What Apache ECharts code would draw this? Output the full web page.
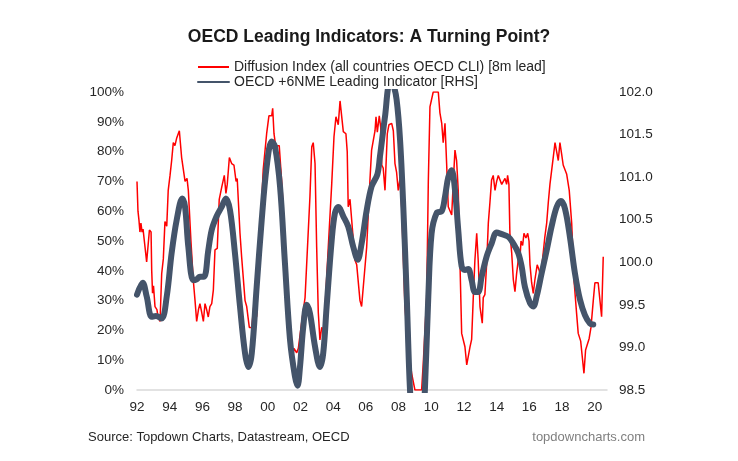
<!DOCTYPE html>
<html>
<head>
<meta charset="utf-8">
<script src="https://cdn.jsdelivr.net/npm/echarts@6/dist/echarts.min.js"></script>
<style>
html,body{margin:0;padding:0;background:#fff;}
#chart{width:738px;height:461px;}
</style>
</head>
<body>
<div id="chart"></div>
<script>
// Diffusion Index (% of countries), years as decimals
var diffYears = [1992.00,1992.06,1992.12,1992.18,1992.24,1992.31,1992.37,1992.49,1992.59,1992.67,1992.76,1992.86,1992.90,1992.95,1993.01,1993.10,1993.22,1993.28,1993.41,1993.51,1993.61,1993.71,1993.82,1993.91,1994.02,1994.12,1994.22,1994.32,1994.43,1994.51,1994.59,1994.73,1994.83,1994.94,1995.06,1995.14,1995.30,1995.44,1995.55,1995.65,1995.76,1995.85,1995.96,1996.06,1996.16,1996.26,1996.36,1996.46,1996.57,1996.67,1996.77,1996.91,1997.03,1997.18,1997.34,1997.44,1997.52,1997.65,1997.79,1997.93,1998.06,1998.13,1998.30,1998.40,1998.61,1998.71,1998.87,1999.02,1999.16,1999.32,1999.42,1999.57,1999.72,1999.93,2000.07,2000.24,2000.30,2000.38,2000.48,2000.70,2000.85,2001.05,2001.24,2001.36,2001.48,2001.60,2001.77,2001.87,2002.07,2002.28,2002.38,2002.58,2002.69,2002.78,2002.89,2002.99,2003.09,2003.19,2003.30,2003.39,2003.44,2003.50,2003.70,2003.91,2004.05,2004.17,2004.31,2004.42,2004.52,2004.62,2004.78,2004.86,2004.92,2005.03,2005.13,2005.33,2005.44,2005.64,2005.74,2005.84,2006.05,2006.25,2006.35,2006.56,2006.62,2006.70,2006.82,2006.91,2006.97,2007.06,2007.17,2007.31,2007.41,2007.58,2007.68,2007.78,2007.88,2007.98,2008.09,2008.19,2008.39,2008.59,2008.80,2009.00,2009.41,2009.51,2009.72,2009.82,2009.92,2010.12,2010.43,2010.53,2010.64,2010.73,2010.84,2010.94,2011.04,2011.14,2011.25,2011.35,2011.45,2011.55,2011.65,2011.86,2012.06,2012.17,2012.26,2012.37,2012.47,2012.57,2012.67,2012.78,2012.87,2012.98,2013.12,2013.18,2013.28,2013.39,2013.49,2013.59,2013.69,2013.79,2013.90,2014.00,2014.10,2014.20,2014.31,2014.40,2014.51,2014.61,2014.67,2014.75,2014.81,2014.92,2015.02,2015.12,2015.22,2015.32,2015.43,2015.49,2015.59,2015.67,2015.79,2015.90,2015.98,2016.04,2016.14,2016.24,2016.34,2016.48,2016.61,2016.69,2016.81,2016.95,2017.06,2017.16,2017.26,2017.36,2017.46,2017.57,2017.67,2017.77,2017.87,2017.98,2018.07,2018.18,2018.28,2018.44,2018.59,2018.73,2018.89,2018.99,2019.14,2019.24,2019.34,2019.44,2019.54,2019.66,2019.77,2019.91,2020.01,2020.21,2020.32,2020.42,2020.52];
var diffValues = [70,60,57,53,56,53,54,48,43,48,53.7,53,40,32.5,35,28,27,24.6,23,39,44,56.5,55,67,72,77,83,82,84.6,84,87,78,78,70,71,67,50,37,30,23,27,29,26,23,29,27,24.5,28,29,33.5,47,47.5,64,68,72,66,69,78,76,75.5,70,71,52.6,44.7,30,28,21,21,29,24.6,39,56,74,86,92,92,94.5,86,82,82,70,50,30,12,9,14,12.5,14,22.5,31,31,65,81.6,83,76,48,26,16.8,21,20,21.5,27,48,69,85,91.7,89,97,96.5,86.7,86,80,61.5,64,63.5,43.6,42,30,28,28,48,70.5,80.5,87,91.7,86.5,92,88,75.5,74.5,67,86,89,89.5,87,76,73,67,71,61.5,28,14.5,5.6,0,0,9,31,70,95,100,100,93,89.5,83,89.5,76,61.5,61.5,58.7,70,80.5,77,67,19,14.5,8.4,8.4,14.5,17,31,43.6,52.6,43.6,28,22.4,31,32,42.5,56,63,70.5,72,67,70,72,72,69,69,71,69,72,69,52.6,46,37,33,39,43.6,44.7,50,48.5,52.6,51,52.6,50,42,36,32.4,37,42,40,38,44,51.5,56,63,69,69.5,78,83,80,77,83,79,75.5,75,72.5,67,56,37,25.7,19,16.4,11,5.6,13.4,14,17.3,21,30,36,36,30,24.6,44.7];

// OECD +6NME Leading Indicator (RHS)
var cliYears = [1992.00,1992.35,1992.59,1992.90,1993.16,1993.51,1993.82,1994.12,1994.43,1994.77,1994.94,1995.14,1995.44,1995.65,1995.85,1996.10,1996.36,1996.57,1996.87,1997.18,1997.44,1997.69,1997.99,1998.30,1998.61,1998.81,1999.02,1999.32,1999.63,1999.93,2000.24,2000.44,2000.75,2001.05,2001.36,2001.66,2001.82,2001.97,2002.17,2002.38,2002.58,2002.89,2003.19,2003.39,2003.60,2003.91,2004.11,2004.31,2004.62,2004.92,2005.23,2005.50,2005.74,2006.05,2006.35,2006.70,2006.86,2007.17,2007.47,2007.68,2007.88,2008.09,2008.29,2008.50,2008.70,2008.94,2009.19,2009.43,2009.61,2009.82,2010.02,2010.33,2010.64,2010.84,2011.04,2011.25,2011.45,2011.65,2011.86,2012.06,2012.26,2012.47,2012.67,2012.87,2013.08,2013.39,2013.69,2014.00,2014.31,2014.71,2015.02,2015.32,2015.53,2015.73,2016.04,2016.24,2016.45,2016.75,2017.06,2017.36,2017.67,2017.93,2018.18,2018.48,2018.79,2019.10,2019.40,2019.71,2019.91];
var cliValues = [99.62,99.76,99.60,99.36,99.37,99.34,99.60,100.11,100.50,100.75,100.65,100.18,99.79,99.80,99.83,99.83,100.14,100.38,100.54,100.65,100.75,100.61,100.11,99.48,98.93,98.77,98.93,99.71,100.50,101.12,101.42,101.36,100.89,99.99,99.09,98.66,98.55,98.77,99.24,99.50,99.40,99.01,98.77,98.93,99.48,100.26,100.58,100.65,100.54,100.42,100.18,100.03,100.22,100.61,100.89,101.03,101.24,101.71,102.10,102.08,101.91,101.44,100.65,99.60,98.50,97.90,97.70,97.90,98.50,99.60,100.34,100.58,100.60,100.77,101.00,101.08,100.85,100.38,99.95,99.91,99.92,99.79,99.65,99.65,99.83,100.07,100.22,100.35,100.33,100.30,100.22,100.11,99.95,99.71,99.52,99.48,99.60,99.87,100.14,100.42,100.65,100.72,100.63,100.30,99.87,99.56,99.38,99.28,99.27];

var seriesNames = ['Diffusion Index (all countries OECD CLI) [8m lead]', 'OECD +6NME Leading Indicator [RHS]'];
var titleText = 'OECD Leading Indicators: A Turning Point?';
var sourceText = 'Source: Topdown Charts, Datastream, OECD';
var brandText = 'topdowncharts.com';

function zip(xs, ys) { return xs.map(function (x, i) { return [x, ys[i]]; }); }

var chart = echarts.init(document.getElementById('chart'), null, {renderer: 'canvas'});
var font = 'Liberation Sans, Arial, sans-serif';
chart.setOption({
  animation: false,
  backgroundColor: '#fff',
  textStyle: {fontFamily: font},
  title: {
    text: titleText,
    left: 'center',
    top: 23,
    textStyle: {fontSize: 17.5, fontWeight: 'bold', color: '#1a1a1a', fontFamily: font}
  },
  legend: {
    orient: 'vertical',
    left: 197,
    top: 60,
    padding: 0,
    itemWidth: 31,
    itemHeight: 14,
    itemGap: 1,
    itemStyle: {opacity: 0},
    textStyle: {fontSize: 14, color: '#262626', fontFamily: font},
    data: seriesNames
  },
  grid: {left: 137, right: 131, top: 92, bottom: 71, containLabel: false},
  xAxis: {
    type: 'value',
    min: 1992,
    max: 2020.75,
    interval: 2,
    axisLine: {show: true, lineStyle: {color: '#d9d9d9', width: 1.5}},
    axisTick: {show: false},
    splitLine: {show: false},
    axisLabel: {
      margin: 10,
      fontSize: 13.5,
      color: '#262626',
      showMaxLabel: false,
      formatter: function (v) {
        if (Math.abs(v - Math.round(v)) > 1e-6 || Math.round(v) % 2 !== 0) return '';
        var y = Math.round(v) % 100;
        return (y < 10 ? '0' : '') + y;
      }
    }
  },
  yAxis: [
    {
      type: 'value', min: 0, max: 100, interval: 10,
      axisLine: {show: false}, axisTick: {show: false}, splitLine: {show: false},
      axisLabel: {margin: 13, fontSize: 13.5, color: '#262626', formatter: '{value}%'}
    },
    {
      type: 'value', min: 98.5, max: 102, interval: 0.5, position: 'right',
      axisLine: {show: false}, axisTick: {show: false}, splitLine: {show: false},
      axisLabel: {margin: 12, fontSize: 13.5, color: '#262626', formatter: function (v) { return v.toFixed(1); }}
    }
  ],
  series: [
    {
      name: seriesNames[0],
      type: 'line',
      yAxisIndex: 0,
      data: zip(diffYears, diffValues),
      symbol: 'none',
      lineStyle: {color: '#ff0000', width: 1.5},
      itemStyle: {color: '#ff0000'}
    },
    {
      name: seriesNames[1],
      type: 'line',
      yAxisIndex: 1,
      data: zip(cliYears, cliValues),
      symbol: 'none',
      smooth: 0.35,
      lineStyle: {color: '#44546a', width: 6, cap: 'round', join: 'round'},
      itemStyle: {color: '#44546a'}
    }
  ],
  graphic: [
    {type: 'text', left: 88, top: 431, style: {text: sourceText, fontSize: 13, fill: '#262626', fontFamily: font}},
    {type: 'text', right: 93, top: 431, style: {text: brandText, fontSize: 13, fill: '#7f7f7f', fontFamily: font}}
  ]
});
</script>
</body>
</html>
